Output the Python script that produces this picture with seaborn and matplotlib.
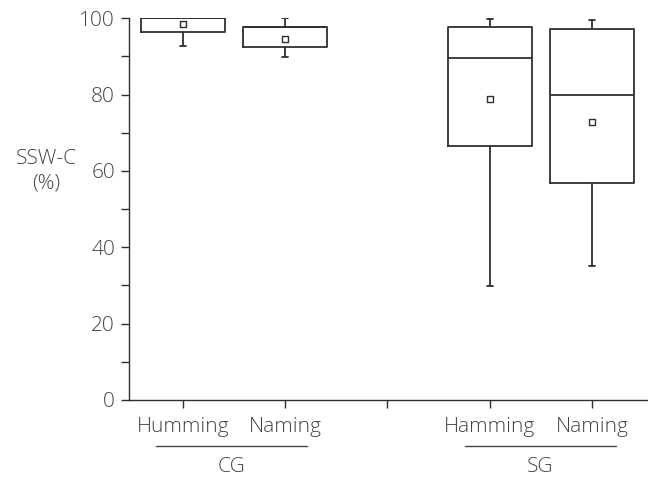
import numpy as np
import pandas as pd
import matplotlib
matplotlib.use("Agg")
import matplotlib.pyplot as plt
import matplotlib.transforms as mtransforms
import seaborn as sns

# ---- data ----
keys = ["CG Humming", "CG Naming", "gap", "SG Hamming", "SG Naming"]
tick_labels = ["Humming", "Naming", "", "Hamming", "Naming"]
box_keys = ["CG Humming", "CG Naming", "SG Hamming", "SG Naming"]
whis_low = [92.7, 89.9, 29.9, 35.2]
q1 = [96.5, 92.5, 66.4, 56.8]
median = [100.0, 97.6, 89.7, 79.8]
q3 = [100.0, 97.6, 97.6, 97.1]
whis_high = [100.0, 100.0, 99.7, 99.4]
means = [98.5, 94.5, 78.8, 72.8]
groups = ["CG", "SG"]

rows = []
for k, a, b, c, d, e in zip(box_keys, whis_low, q1, median, q3, whis_high):
    for v in (a, b, c, d, e):
        rows.append({"cond": k, "value": v})
df = pd.DataFrame(rows)
mean_df = pd.DataFrame({"cond": box_keys, "value": means})

sns.set_theme(style="ticks")
plt.rcParams["font.family"] = ["Open Sans", "DejaVu Sans"]
txt = "#444444"
edge = "#2f2f2f"
fs = 15
fw = "light"

fig = plt.figure(figsize=(6.48, 4.79), dpi=100)
ax = fig.add_axes([0.199, 0.165, 0.801, 0.797])

sns.boxplot(data=df, x="cond", y="value", order=keys, whis=(0, 100),
            width=0.82, fill=False, color=edge, linecolor=edge, linewidth=1.3,
            showfliers=False, capwidths=0.06, ax=ax)
sns.stripplot(data=mean_df, x="cond", y="value", order=keys, jitter=False,
              marker="s", size=4.2, color="white", edgecolor=edge,
              linewidth=1.0, ax=ax)

ax.set_xlim(-0.528, 4.548)
ax.set_ylim(0, 100)
ax.set_yticks(np.arange(0, 101, 20))
ax.set_yticks(np.arange(10, 100, 20), minor=True)
ax.set_xticks(range(len(keys)))
ax.set_xticklabels(tick_labels)
ax.set_xlabel("")
ax.set_ylabel("")
for s in ("top", "right"):
    ax.spines[s].set_visible(False)
for s in ("left", "bottom"):
    ax.spines[s].set_color(edge)
    ax.spines[s].set_linewidth(1.0)
ax.tick_params(axis="both", which="both", length=6, width=1.0, color=edge,
               labelcolor=txt, labelsize=fs)
ax.tick_params(axis="x", pad=6)
ax.tick_params(axis="y", pad=4)
for lab in ax.get_xticklabels() + ax.get_yticklabels():
    lab.set_fontweight(fw)

fig.text(46 / 648, 1 - 171 / 479, "SSW-C\n(%)", ha="center", va="center",
         fontsize=fs, color=txt, fontweight=fw, linespacing=1.3)

trans = mtransforms.blended_transform_factory(ax.transData, fig.transFigure)
for (x0, x1), g in zip([(-0.264, 1.213), (2.758, 4.235)], groups):
    ax.plot([x0, x1], [1 - 446 / 479] * 2, transform=trans, color=txt,
            lw=1.0, clip_on=False)
    fig.text((x0 + x1) / 2, 1 - 467 / 479, g, transform=trans, ha="center",
             va="center", fontsize=fs, color=txt, fontweight=fw)

fig.savefig("out.png", dpi=100)
